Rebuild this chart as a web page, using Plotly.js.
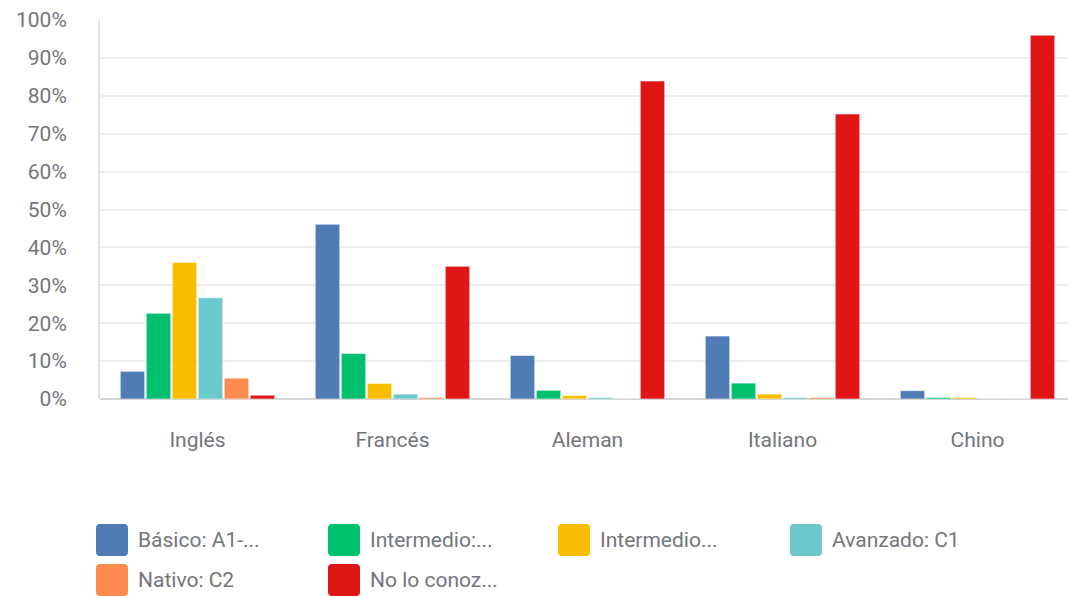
<!DOCTYPE html>
<html>
<head>
<meta charset="utf-8">
<script src="https://cdn.plot.ly/plotly-3.0.1.min.js"></script>
<style>
html,body{margin:0;padding:0;background:#fff;overflow:hidden;}
#chart{width:1068px;height:596px;}
</style>
</head>
<body>
<div id="chart"></div>
<script>
const categories = ["Inglés", "Francés", "Aleman", "Italiano", "Chino"];
const seriesNames = ["Básico: A1-...", "Intermedio:...", "Intermedio...", "Avanzado: C1", "Nativo: C2", "No lo conoz..."];
const seriesColors = ["#507cb6", "#00bf6f", "#f9be00", "#6bc8cd", "#ff8b4f", "#e01616"];
const basico     = [7.3, 46.1, 11.5, 16.6, 2.2];
const intermedioB = [22.6, 12.0, 2.3, 4.2, 0.4];
const intermedioB2 = [36.0, 4.1, 0.9, 1.3, 0.4];
const avanzado   = [26.7, 1.3, 0.4, 0.4, 0.0];
const nativo     = [5.5, 0.4, 0.0, 0.4, 0.0];
const noConozco  = [1.0, 35.0, 83.9, 75.2, 96.0];
const yTickVals = [0,10,20,30,40,50,60,70,80,90,100];
const yTickText = ["0%","10%","20%","30%","40%","50%","60%","70%","80%","90%","100%"];

const seriesValues = [basico, intermedioB, intermedioB2, avanzado, nativo, noConozco];
const FONT = "Roboto, 'Open Sans', sans-serif";
const TXT = "#72767b";

const traces = seriesValues.map((vals, i) => ({
  type: "bar",
  x: categories,
  y: vals,
  name: seriesNames[i],
  marker: {color: seriesColors[i], line: {color: "rgba(255,255,255,0.55)", width: 1}},
  hoverinfo: "skip",
  showlegend: false
}));

// legend built from names/colors
const W = 1068, H = 596, ML = 100, MR = 0, MT = 20, MB = 197;
const pw = W - ML - MR, ph = H - MT - MB;
const colX = [112, 344, 574, 806];
const rowY = [540, 580];
const shapes = [];
const annotations = [];
const sq = "M -12,-16 L 12,-16 Q 16,-16 16,-12 L 16,12 Q 16,16 12,16 L -12,16 Q -16,16 -16,12 L -16,-12 Q -16,-16 -12,-16 Z";
seriesNames.forEach((n, i) => {
  const cx = colX[i % 4], cy = rowY[Math.floor(i / 4)];
  const xp = (cx - ML) / pw, yp = (H - MB - cy) / ph;
  shapes.push({
    type: "path", xref: "paper", yref: "paper",
    xsizemode: "pixel", ysizemode: "pixel", xanchor: xp, yanchor: yp,
    path: sq, fillcolor: seriesColors[i], line: {width: 0}
  });
  annotations.push({
    xref: "paper", yref: "paper", x: (cx + 24 - ML) / pw, y: yp,
    xanchor: "left", yanchor: "middle", showarrow: false, text: n,
    font: {family: FONT, size: 21, color: TXT}
  });
});

const layout = {
  width: W, height: H,
  margin: {l: ML, r: MR, t: MT, b: MB, pad: 0},
  paper_bgcolor: "#fff", plot_bgcolor: "#fff",
  barmode: "group", bargap: 0.2, bargroupgap: 0.06,
  showlegend: false,
  xaxis: {
    range: [-0.5, -0.5 + pw / 195],
    tickfont: {family: FONT, size: 21, color: TXT},
    showgrid: false, zeroline: false, showline: false,
    ticks: "", ticklabelstandoff: 26, fixedrange: true
  },
  yaxis: {
    range: [0, 100], tickvals: yTickVals, ticktext: yTickText,
    tickfont: {family: FONT, size: 21, color: TXT},
    showgrid: true, gridcolor: "#ededed", gridwidth: 2,
    zeroline: true, zerolinecolor: "#d5d5d5", zerolinewidth: 2,
    showline: true, linecolor: "#e2e2e2", linewidth: 2,
    ticks: "", ticklabelstandoff: 27, fixedrange: true
  },
  shapes: shapes,
  annotations: annotations
};

Plotly.newPlot("chart", traces, layout, {displayModeBar: false, staticPlot: true});
</script>
</body>
</html>
